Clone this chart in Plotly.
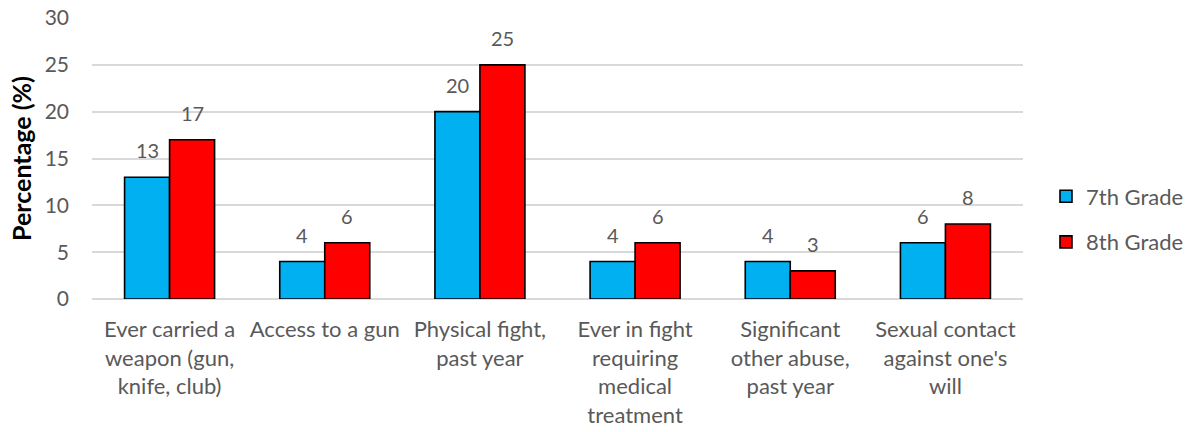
import plotly.graph_objects as go

categories = [
    "Ever carried a<br>weapon (gun,<br>knife, club)",
    "Access to a gun",
    "Physical fight,<br>past year",
    "Ever in fight<br>requiring<br>medical<br>treatment",
    "Significant<br>other abuse,<br>past year",
    "Sexual contact<br>against one's<br>will",
]
grade7 = [13, 4, 20, 4, 4, 6]
grade8 = [17, 6, 25, 6, 3, 8]
yticks = [0, 5, 10, 15, 20, 25, 30]

FONT = "Lato, Open Sans, sans-serif"
TXT = "#595959"

fig = go.Figure()
fig.add_trace(go.Bar(
    name="7th Grade", x=categories, y=grade7, legendgroup="a",
    marker=dict(color="#00B0F0", line=dict(color="black", width=1.6)),
))
fig.add_trace(go.Bar(
    name="8th Grade", x=categories, y=grade8, legendgroup="b",
    marker=dict(color="#FF0000", line=dict(color="black", width=1.6)),
))

annotations = []
for vals, shift in ((grade7, -22.5), (grade8, 22.5)):
    for c, v in zip(categories, vals):
        annotations.append(dict(
            x=c, y=v, xref="x", yref="y", text=str(v), showarrow=False,
            xanchor="center", yanchor="bottom", xshift=shift, yshift=13,
            font=dict(size=20, color=TXT, family=FONT),
        ))

fig.update_layout(
    width=1192, height=432,
    margin=dict(l=92, r=169, t=18, b=133),
    paper_bgcolor="white", plot_bgcolor="white",
    font=dict(family=FONT, size=21, color=TXT),
    barmode="group", bargap=0.42, bargroupgap=0,
    showlegend=True,
    annotations=annotations,
    legend=dict(xref="container", yref="container", x=0.8775, y=0.492,
                xanchor="left", yanchor="middle",
                tracegroupgap=14, traceorder="grouped",
                font=dict(size=22, color=TXT, family=FONT)),
    xaxis=dict(showgrid=False, showline=False, ticks="", automargin=False,
               ticklabelstandoff=15, tickfont=dict(size=22, color=TXT)),
    yaxis=dict(range=[0, 30], tickvals=yticks, showgrid=True, gridcolor="#D9D9D9", gridwidth=1.6,
               zeroline=True, zerolinecolor="#D9D9D9", zerolinewidth=1.6, automargin=False,
               ticks="", ticklabelstandoff=22, tickfont=dict(size=21, color=TXT),
               title=dict(text="<b>Percentage (%)</b>", font=dict(size=25, color="black", family=FONT), standoff=5)),
)

fig.write_html("out.html", config={"displayModeBar": False},
               post_script="document.body.style.margin='0';")
